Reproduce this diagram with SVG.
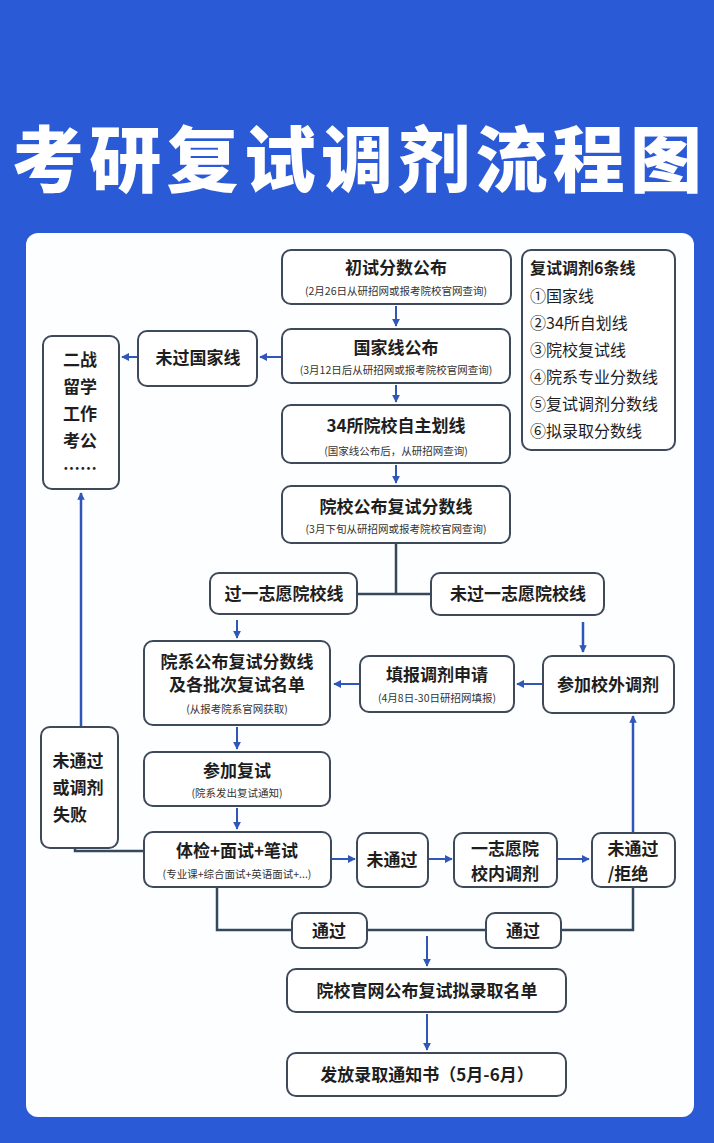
<svg xmlns="http://www.w3.org/2000/svg" width="714" height="1143" viewBox="0 0 714 1143">
<defs>
<marker id="a" viewBox="0 0 10 10" refX="9" refY="5" markerWidth="4" markerHeight="4" orient="auto"><path d="M0,0L10,5L0,10z" fill="#2f56b8"/></marker>
<marker id="b" viewBox="0 0 10 10" refX="9" refY="5" markerWidth="3" markerHeight="3" orient="auto"><path d="M0,0L10,5L0,10z" fill="#2f56b8"/></marker>
<style>
text{font-family:"Noto Sans CJK SC","Noto Sans",sans-serif;fill:#1e1e1e;text-anchor:middle}
.n rect{fill:#fff;stroke:#3e4a5a;stroke-width:2}
.t{font-size:17px;font-weight:700}
.s{font-size:10.5px;fill:#333}
.l{font-size:16px;text-anchor:start}
.c path{fill:none;stroke:#34495e;stroke-width:2.5}
.c .ar{stroke:#2f56b8;stroke-width:2;marker-end:url(#a)}
.c .big{stroke:#2f56b8;stroke-width:2.5;marker-end:url(#b)}
</style>
</defs>
<rect width="714" height="1143" fill="#2b5ad6"/>
<text x="357" y="186" style="font-size:72px;font-weight:900;fill:#fff" textLength="690">考研复试调剂流程图</text>
<rect x="26" y="233" width="668" height="884" rx="12" fill="#fdfeff"/>
<g class="c">
<path class="ar" d="M396 306V326"/>
<path class="ar" d="M282 357H260"/>
<path class="ar" d="M138 357H122"/>
<path class="ar" d="M396 385V402"/>
<path class="ar" d="M396 465V483"/>
<path d="M396 543V594M357 594H431"/>
<path class="ar" d="M237 620V638"/>
<path class="big" d="M583 622V652"/>
<path class="ar" d="M543 684H517"/>
<path class="ar" d="M360 684H334"/>
<path class="ar" d="M237 727V749"/>
<path class="ar" d="M237 808V829"/>
<path class="ar" d="M331 859H355"/>
<path class="ar" d="M428 859H452"/>
<path class="ar" d="M557 859H589"/>
<path class="big" d="M633 833V716"/>
<path d="M75 848V851H144"/>
<path class="big" d="M81 727V493"/>
<path d="M217 887V930H292M367 930H486M561 930H633V887"/>
<path class="ar" d="M427 936V966"/>
<path class="ar" d="M427 1014V1050"/>
</g>
<g class="n" id="n1"><rect x="282" y="250" width="229" height="54" rx="9"/><text class="t" x="396" y="274">初试分数公布</text><text class="s" x="396" y="295">(2月26日从研招网或报考院校官网查询)</text></g>
<g class="n" id="lines"><rect x="522" y="250" width="153" height="200" rx="9"/>
<text class="l" x="530" y="274" style="font-weight:700">复试调剂6条线</text>
<text class="l" x="530" y="302">①国家线</text>
<text class="l" x="530" y="329">②34所自划线</text>
<text class="l" x="530" y="356">③院校复试线</text>
<text class="l" x="530" y="383">④院系专业分数线</text>
<text class="l" x="530" y="410">⑤复试调剂分数线</text>
<text class="l" x="530" y="437">⑥拟录取分数线</text></g>
<g class="n" id="n2"><rect x="282" y="329" width="228" height="54" rx="9"/><text class="t" x="396" y="354">国家线公布</text><text class="s" x="396" y="374">(3月12日后从研招网或报考院校官网查询)</text></g>
<g class="n" id="n3"><rect x="138" y="331" width="119" height="55" rx="9"/><text class="t" x="198" y="364">未过国家线</text></g>
<g class="n" id="n4"><rect x="43" y="336" width="76" height="153" rx="9"/>
<text class="t" x="80" y="366">二战</text><text class="t" x="80" y="393">留学</text><text class="t" x="80" y="420">工作</text><text class="t" x="80" y="447">考公</text><text class="t" x="80" y="475">……</text></g>
<g class="n" id="n5"><rect x="282" y="405" width="228" height="58" rx="9"/><text class="t" x="396" y="432">34所院校自主划线</text><text class="s" x="396" y="455">(国家线公布后，从研招网查询)</text></g>
<g class="n" id="n6"><rect x="282" y="486" width="228" height="57" rx="9"/><text class="t" x="396" y="513">院校公布复试分数线</text><text class="s" x="396" y="533">(3月下旬从研招网或报考院校官网查询)</text></g>
<g class="n" id="n7"><rect x="210" y="573" width="147" height="41" rx="9"/><text class="t" x="284" y="600">过一志愿院校线</text></g>
<g class="n" id="n8"><rect x="431" y="573" width="173" height="42" rx="9"/><text class="t" x="518" y="600">未过一志愿院校线</text></g>
<g class="n" id="n9"><rect x="144" y="641" width="186" height="84" rx="9"/><text class="t" x="237" y="668">院系公布复试分数线</text><text class="t" x="237" y="691">及各批次复试名单</text><text class="s" x="237" y="713">(从报考院系官网获取)</text></g>
<g class="n" id="n10"><rect x="360" y="656" width="154" height="56" rx="9"/><text class="t" x="437" y="681">填报调剂申请</text><text class="s" x="437" y="702">(4月8日-30日研招网填报)</text></g>
<g class="n" id="n11"><rect x="543" y="656" width="131" height="57" rx="9"/><text class="t" x="608" y="691">参加校外调剂</text></g>
<g class="n" id="n12"><rect x="41" y="727" width="77" height="121" rx="9"/>
<text class="t" x="78" y="767">未通过</text><text class="t" x="78" y="794">或调剂</text><text class="t" x="70" y="821">失败</text></g>
<g class="n" id="n13"><rect x="144" y="752" width="186" height="54" rx="9"/><text class="t" x="237" y="777">参加复试</text><text class="s" x="237" y="797">(院系发出复试通知)</text></g>
<g class="n" id="n14"><rect x="144" y="832" width="187" height="55" rx="9"/><text class="t" x="237" y="857">体检+面试+笔试</text><text class="s" x="237" y="878">(专业课+综合面试+英语面试+...)</text></g>
<g class="n" id="n15"><rect x="357" y="833" width="71" height="54" rx="9"/><text class="t" x="392" y="866">未通过</text></g>
<g class="n" id="n16"><rect x="454" y="833" width="103" height="54" rx="9"/><text class="t" x="505" y="855">一志愿院</text><text class="t" x="505" y="880">校内调剂</text></g>
<g class="n" id="n17"><rect x="592" y="833" width="83" height="54" rx="9"/><text class="t" x="633" y="855">未通过</text><text class="t" x="628" y="880">/拒绝</text></g>
<g class="n" id="n18"><rect x="292" y="913" width="75" height="35" rx="9"/><text class="t" x="329" y="937">通过</text></g>
<g class="n" id="n19"><rect x="486" y="913" width="75" height="35" rx="9"/><text class="t" x="523" y="937">通过</text></g>
<g class="n" id="n20"><rect x="287" y="969" width="279" height="43" rx="9"/><text class="t" x="427" y="997">院校官网公布复试拟录取名单</text></g>
<g class="n" id="n21"><rect x="287" y="1053" width="279" height="43" rx="9"/><text class="t" x="427" y="1081">发放录取通知书（5月-6月）</text></g>
</svg>
